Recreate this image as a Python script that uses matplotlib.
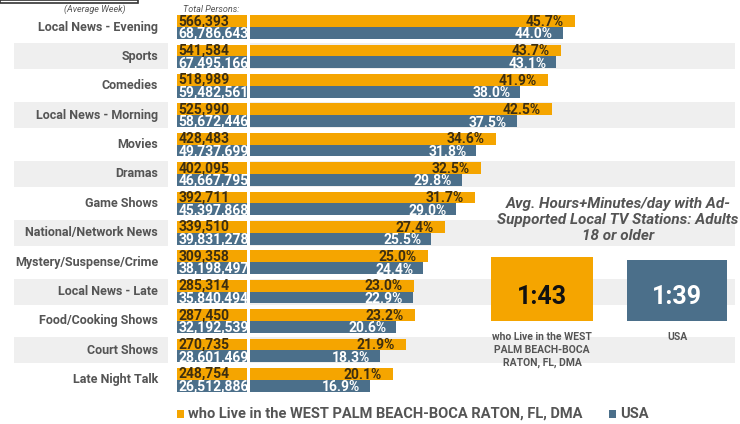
import matplotlib.pyplot as plt
from matplotlib.patches import Rectangle

plt.rcParams['font.family'] = ['Roboto', 'DejaVu Sans']

categories = ['Local News - Evening', 'Sports', 'Comedies', 'Local News - Morning',
              'Movies', 'Dramas', 'Game Shows', 'National/Network News',
              'Mystery/Suspense/Crime', 'Local News - Late', 'Food/Cooking Shows',
              'Court Shows', 'Late Night Talk']
local_pct = [45.7, 43.7, 41.9, 42.5, 34.6, 32.5, 31.7, 27.4, 25.0, 23.0, 23.2, 21.9, 20.1]
usa_pct = [44.0, 43.1, 38.0, 37.5, 31.8, 29.8, 29.0, 25.5, 24.4, 22.9, 20.6, 18.3, 16.9]
local_persons = ['566,393', '541,584', '518,989', '525,990', '428,483', '402,095', '392,711',
                 '339,510', '309,358', '285,314', '287,450', '270,735', '248,754']
usa_persons = ['68,786,643', '67,495,166', '59,482,561', '58,672,446', '49,737,699',
               '46,667,795', '45,397,868', '39,831,278', '38,198,497', '35,840,494',
               '32,192,539', '28,601,469', '26,512,886']
local_time = '1:43'
usa_time = '1:39'
local_name = 'who Live in the WEST PALM BEACH-BOCA RATON, FL, DMA'
usa_name = 'USA'

ORANGE = '#F5A500'
BLUE = '#4B6F8A'
BAND = '#EFEFEF'
DARK = '#3D2E10'
GREY = '#555555'

W, H = 740, 424
fig = plt.figure(figsize=(W / 100, H / 100), dpi=100)

n = len(categories)
top_px, row_px = 27, 29.4
ax_top = top_px - row_px / 2
ax_bot = top_px + row_px * (n - 1) + row_px / 2
bottom = 1 - ax_bot / H
height = (ax_bot - ax_top) / H
ylim = (n - 0.5, -0.5)


def fx(px):
    return px / W


def fy(py):
    return 1 - py / H


# background bands + category labels
ax_bg = fig.add_axes([fx(14), bottom, fx(735 - 14), height])
ax_bg.set_xlim(0, 1)
ax_bg.set_ylim(*ylim)
ax_bg.axis('off')
for i, cat in enumerate(categories):
    if i % 2 == 1:
        ax_bg.axhspan(i - 0.44, i + 0.44, xmin=0, xmax=(168 - 14) / 721, color=BAND, lw=0)
        ax_bg.axhspan(i - 0.44, i + 0.44, xmin=(250 - 14) / 721, xmax=1, color=BAND, lw=0)
    ax_bg.text((158 - 14) / 721, i, cat, ha='right', va='center', fontsize=9,
               color=GREY, fontweight='bold')

# total persons column
ax_cnt = fig.add_axes([fx(177), bottom, fx(70), height])
ax_cnt.set_xlim(0, 1)
ax_cnt.set_ylim(*ylim)
ax_cnt.axis('off')
ys = list(range(n))
ax_cnt.barh([y - 0.2 for y in ys], [1] * n, height=0.4, color=ORANGE, align='center')
ax_cnt.barh([y + 0.2 for y in ys], [1] * n, height=0.4, color=BLUE, align='center')
for y, a, b in zip(ys, local_persons, usa_persons):
    ax_cnt.text(0.02, y - 0.2, a, ha='left', va='center', fontsize=10, fontweight='bold',
                color=DARK, clip_on=True)
    ax_cnt.text(0.02, y + 0.23, b, ha='left', va='center', fontsize=10, fontweight='bold',
                color='white', clip_on=True)

# percentage bars
ax = fig.add_axes([fx(250), bottom, fx(490), height])
ax.set_xlim(0, 490 / 7.11)
ax.set_ylim(*ylim)
ax.axis('off')
ax.barh([y - 0.2 for y in ys], local_pct, height=0.4, color=ORANGE)
ax.barh([y + 0.2 for y in ys], usa_pct, height=0.4, color=BLUE)
for y, a, b in zip(ys, local_pct, usa_pct):
    ax.annotate(f'{a:.1f}%', (a, y - 0.18), xytext=(-8, 0), textcoords='offset points',
                ha='right', va='center', fontsize=10, fontweight='bold', color=DARK)
    ax.annotate(f'{b:.1f}%', (b, y + 0.25), xytext=(-7, 0), textcoords='offset points',
                ha='right', va='center', fontsize=10, fontweight='bold', color='white')

# header notes
fig.text(fx(95), fy(9), '(Average Week)', ha='center', va='center', fontsize=6.5,
         style='italic', color='#555555')
fig.text(fx(183), fy(9), 'Total Persons:', ha='left', va='center', fontsize=6.5,
         style='italic', color='#555555')
fig.add_artist(Rectangle((fx(0), fy(3)), fx(138), fy(0) - fy(3), transform=fig.transFigure,
                         facecolor='white', edgecolor='#333333', lw=1.2))

# avg time panel
fig.text(fx(618), fy(220), 'Avg. Hours+Minutes/day with Ad-\nSupported Local TV Stations: Adults\n18 or older',
         ha='center', va='center', fontsize=11, style='italic', fontweight='bold',
         color='#555555', linespacing=1.2)
fig.add_artist(Rectangle((fx(491), fy(321)), fx(102), fy(257) - fy(321),
                         transform=fig.transFigure, facecolor=ORANGE, lw=0))
fig.add_artist(Rectangle((fx(627), fy(321)), fx(100), fy(260) - fy(321),
                         transform=fig.transFigure, facecolor=BLUE, lw=0))
fig.text(fx(542), fy(297), local_time, ha='center', va='center', fontsize=18,
         fontweight='bold', color='#111111')
fig.text(fx(677), fy(297), usa_time, ha='center', va='center', fontsize=18,
         fontweight='bold', color='white')
fig.text(fx(542), fy(350), 'who Live in the WEST\nPALM BEACH-BOCA\nRATON, FL, DMA',
         ha='center', va='center', fontsize=7.5, color=GREY, fontweight='bold',
         linespacing=1.35)
fig.text(fx(677), fy(337), usa_name, ha='center', va='center', fontsize=7.5, color=GREY,
         fontweight='bold')

# legend
fig.add_artist(Rectangle((fx(177), fy(418)), fx(7), fy(410) - fy(418),
                         transform=fig.transFigure, facecolor=ORANGE, lw=0))
fig.text(fx(188), fy(414), local_name, ha='left', va='center', fontsize=10.5,
         color=GREY, fontweight='bold')
fig.add_artist(Rectangle((fx(609), fy(418)), fx(7), fy(410) - fy(418),
                         transform=fig.transFigure, facecolor=BLUE, lw=0))
fig.text(fx(620), fy(414), usa_name, ha='left', va='center', fontsize=10.5,
         color=GREY, fontweight='bold')

fig.savefig('out.png', dpi=100)
